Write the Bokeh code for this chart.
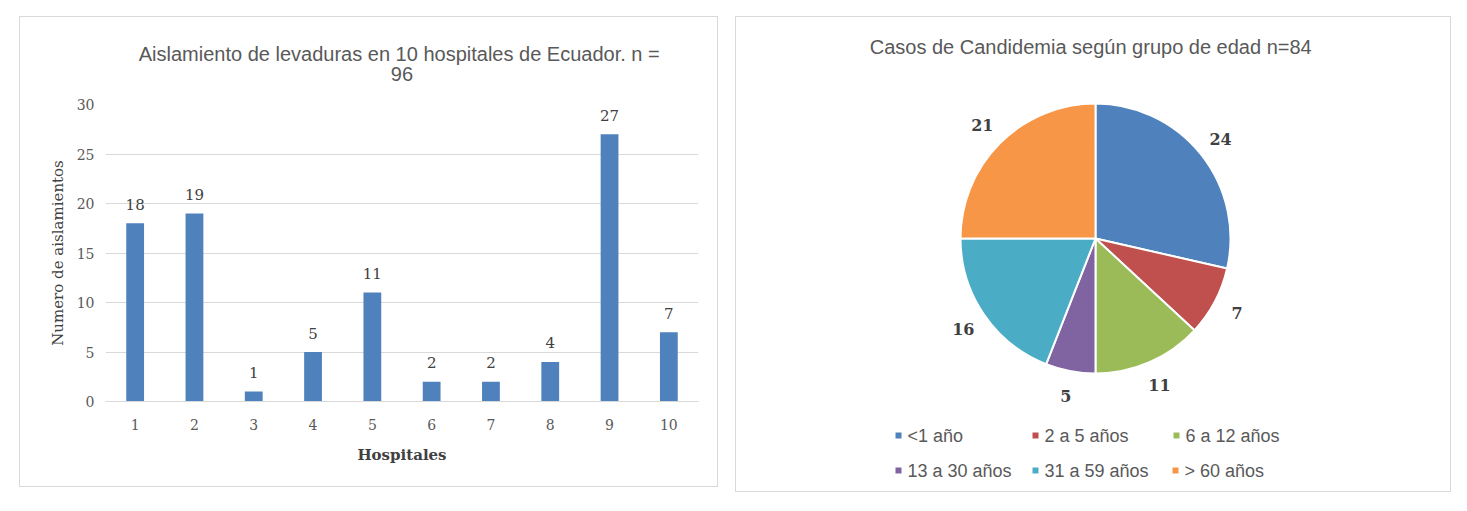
import math
from bokeh.plotting import figure
from bokeh.models import ColumnDataSource, LabelSet, Range1d, FixedTicker, Spacer, Title
from bokeh.layouts import row, column
from bokeh.embed import file_html
from bokeh.resources import INLINE
from bokeh.core.properties import value

# ---------------- data ----------------
hospitals = [1, 2, 3, 4, 5, 6, 7, 8, 9, 10]
isolates = [18, 19, 1, 5, 11, 2, 2, 4, 27, 7]
y_ticks = [0, 5, 10, 15, 20, 25, 30]
bar_title = ["Aislamiento de levaduras  en 10 hospitales de Ecuador. n =", "96"]
bar_xlabel = "Hospitales"
bar_ylabel = "Numero de aislamientos"

age_groups = ["<1 año", "2 a 5 años", "6 a 12 años", "13 a 30 años", "31 a 59 años", "> 60 años"]
cases = [24, 7, 11, 5, 16, 21]
pie_colors = ["#4F81BD", "#C0504D", "#9BBB59", "#8064A2", "#4BACC6", "#F79646"]
pie_title = "Casos de Candidemia  según grupo de edad n=84"

SANS = "Liberation Sans"
SERIF = "DejaVu Serif"
BORDER = {"border": "1px solid #d9d9d9"}

# ---------------- bar chart ----------------
W1, H1 = 699, 471
p1 = figure(width=W1, height=H1, x_range=Range1d(0.5, 10.5), y_range=Range1d(0, 30),
            output_backend="svg", toolbar_location=None, title=None,
            min_border_left=85, min_border_right=21, min_border_top=87, min_border_bottom=87,
            styles=BORDER)
p1.outline_line_color = None
src = ColumnDataSource(dict(x=hospitals, y=isolates, t=[str(v) for v in isolates]))
p1.vbar(x="x", top="y", width=0.3, source=src, fill_color="#4F81BD", line_color=None)
p1.add_layout(LabelSet(x="x", y="y", text="t", source=src, y_offset=19,
                       text_align="center", text_baseline="middle",
                       text_font=value(SERIF), text_font_size="15px", text_color="#404040"))

p1.xgrid.grid_line_color = None
p1.ygrid.grid_line_color = "#d9d9d9"
p1.ygrid.ticker = FixedTicker(ticks=y_ticks)
p1.yaxis.ticker = FixedTicker(ticks=y_ticks)
p1.xaxis.ticker = FixedTicker(ticks=hospitals)
for ax in (p1.xaxis, p1.yaxis):
    ax.major_tick_line_color = None
    ax.minor_tick_line_color = None
    ax.major_label_text_font = SERIF
    ax.major_label_text_font_size = "14px"
    ax.major_label_text_color = "#595959"
    ax.axis_label_text_font = SERIF
    ax.axis_label_text_color = "#404040"
    ax.axis_label_text_font_style = "normal"
p1.yaxis.axis_line_color = None
p1.xaxis.axis_line_color = "#d9d9d9"
p1.yaxis.major_label_standoff = 5
p1.xaxis.major_label_standoff = 11
p1.yaxis.axis_label = bar_ylabel
p1.yaxis.axis_label_text_font_size = "15px"
p1.yaxis.axis_label_standoff = 7
p1.xaxis.axis_label = bar_xlabel
p1.xaxis.axis_label_text_font_size = "15px"
p1.xaxis.axis_label_text_font_style = "bold"
p1.xaxis.axis_label_standoff = 13

# two-line title
p1.add_layout(Title(text="\n".join(bar_title), align="center", text_align="center",
                    text_font=SANS, text_font_size="20px", text_line_height=0.92,
                    text_font_style="normal", text_color="#595959", standoff=38), "above")

# ---------------- pie chart ----------------
W2, H2 = 716, 476
p2 = figure(width=W2, height=H2, x_range=Range1d(0, W2), y_range=Range1d(0, H2),
            output_backend="svg", toolbar_location=None, title=None,
            min_border=0, styles=BORDER)
p2.axis.visible = False
p2.grid.visible = False
p2.outline_line_color = None

def top(y):  # pixel offset from top of panel -> y coordinate
    return H2 - y

cx, cy, R = 359, top(221), 135
total = sum(cases)
starts, ends, mids = [], [], []
acc = 0
for c in cases:
    a0 = math.pi / 2 - 2 * math.pi * acc / total
    acc += c
    a1 = math.pi / 2 - 2 * math.pi * acc / total
    starts.append(a0); ends.append(a1); mids.append((a0 + a1) / 2)

psrc = ColumnDataSource(dict(start=starts, end=ends, color=pie_colors, label=age_groups))
p2.wedge(x=cx, y=cy, radius=R, start_angle="start", end_angle="end", direction="clock",
         fill_color="color", line_color="white", line_width=2, source=psrc)

RL = 160
p2.text(x=[cx + RL * math.cos(m) for m in mids], y=[cy + RL * math.sin(m) for m in mids],
        text=[str(c) for c in cases], text_align="center", text_baseline="middle",
        text_font=value(SERIF), text_font_size=value("16px"), text_font_style="bold",
        text_color="#404040")

p2.text(x=[357], y=[top(29)], text=[pie_title], text_align="center", text_baseline="middle",
        text_font=value(SANS), text_font_size=value("20px"), text_color="#595959")

# legend (two rows, three items each)
leg_x = [162, 299, 440, 162, 299, 439]
leg_y = [top(418), top(418), top(418), top(453), top(453), top(453)]
p2.scatter(x=leg_x, y=leg_y, marker="square", size=6, fill_color=pie_colors, line_color=None)
p2.text(x=[x + 9 for x in leg_x], y=leg_y, text=age_groups, text_align="left",
        text_baseline="middle", text_font=value(SANS), text_font_size=value("18px"),
        text_color="#595959")

layout = column(Spacer(height=16),
                row(Spacer(width=19), column(p1), Spacer(width=17), column(p2)))

open("out.html", "w").write(file_html(layout, INLINE))
